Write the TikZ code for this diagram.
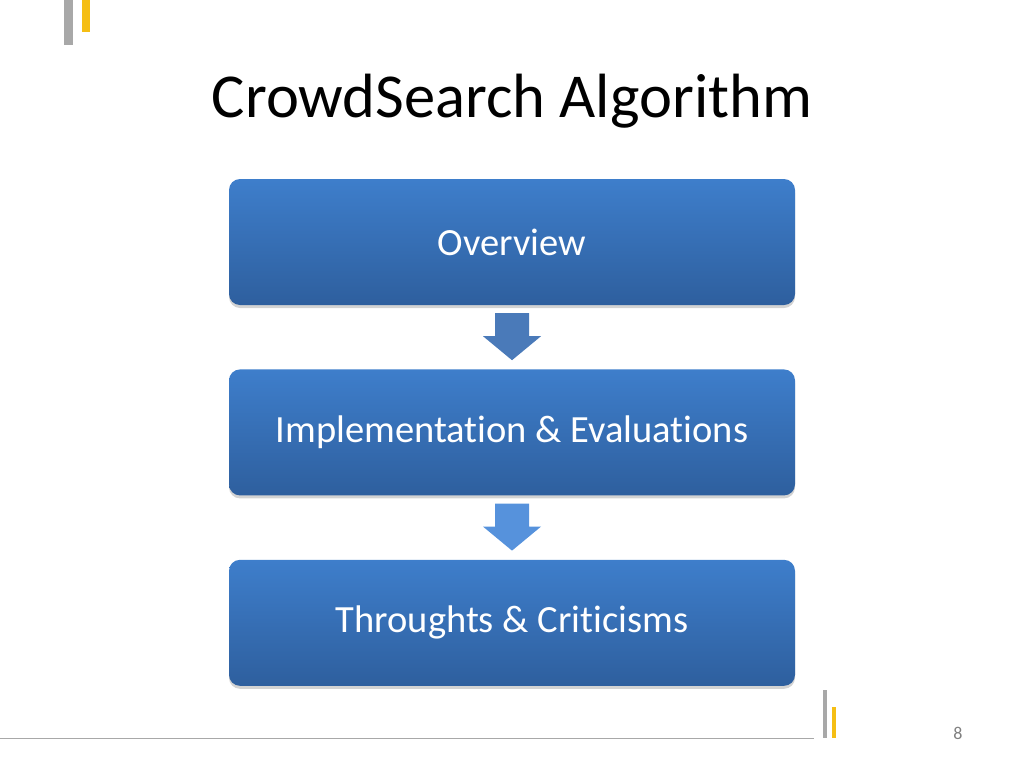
\documentclass[tikz,border=0pt]{standalone}
\usepackage{fontspec}
\setmainfont{Carlito}[RawFeature=-liga]
\usetikzlibrary{calc}
\usetikzlibrary{positioning}
\usetikzlibrary{shadows}

\definecolor{boxtop}{RGB}{62,126,203}
\definecolor{boxbot}{RGB}{46,95,158}
\definecolor{arrdark}{RGB}{74,122,185}
\definecolor{arrlight}{RGB}{86,146,220}
\definecolor{markgray}{RGB}{168,168,168}
\definecolor{markgold}{RGB}{245,190,20}

\begin{document}
\begin{tikzpicture}[
      x=1pt, y=-1pt,
      stage/.style={rectangle, rounded corners=11pt, minimum width=566pt,
        minimum height=126pt, top color=boxtop, bottom color=boxbot,
        drop shadow={shadow xshift=0pt, shadow yshift=-3pt, opacity=.35},
        text=white, font=\fontsize{38.5}{44}\selectfont},
      bar/.style={fill=#1, draw=none}]
      \useasboundingbox (0,0) rectangle (1024,768);
      % slide marks and footer
      \fill[bar=markgray] (64,0) rectangle (73,45);
      \fill[bar=markgold] (82,0) rectangle (90,32);
      \draw[markgray, line width=1pt] (0,738) -- (814,738);
      \fill[bar=markgray] (823,690) rectangle (827,738);
      \fill[bar=markgold] (832,707) rectangle (836,738);
      \node[text=gray, font=\fontsize{18}{20}\selectfont, anchor=base] (pgno) at (958,739) {8};
      % title
      \node[font=\fontsize{62.5}{70}\selectfont, anchor=base] (title) at (512,117) {CrowdSearch Algorithm};
      % the three stages, stacked
      \node[stage] (ov) at (512,242) {Overview};
      \node[stage, below=64pt of ov] (impl) {Implementation \& Evaluations};
      \node[stage, below=64pt of impl] (crit) {Throughts \& Criticisms};
      % block arrows between stages
      \fill[arrdark] ($(ov.south)+(-17,8)$) -- ++(34,0) -- ++(0,23) -- ++(12,0)
        -- ($(impl.north)+(0,-9)$) -- ($(ov.south)+(-29,31)$) -- ++(12,0) -- cycle;
      \fill[arrlight] ($(impl.south)+(-17,8)$) -- ++(34,0) -- ++(0,23) -- ++(12,0)
        -- ($(crit.north)+(0,-9)$) -- ($(impl.south)+(-29,31)$) -- ++(12,0) -- cycle;
    \end{tikzpicture}
\end{document}
